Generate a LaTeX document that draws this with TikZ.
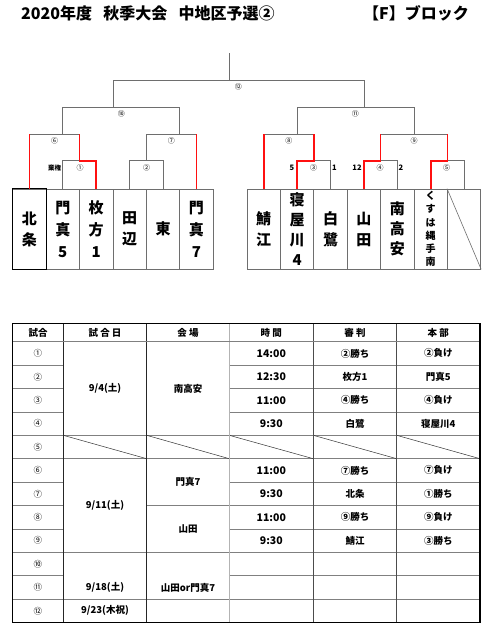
\documentclass[tikz,border=0pt]{standalone}
\usepackage{fontspec}
\setmainfont{Noto Sans CJK JP}
\usetikzlibrary{positioning}
\definecolor{winred}{HTML}{FF1010}
\definecolor{linegray}{HTML}{6E6E6E}
\definecolor{gridgray}{HTML}{808080}

\begin{document}
\begin{tikzpicture}[x=1pt,y=-1pt,
  team/.style={draw=linegray,line width=0.7pt,minimum width=33.4pt,
               minimum height=80pt,inner sep=0pt,align=center,
               font=\fontsize{15}{21}\selectfont\bfseries},
  team3/.style={team,font=\fontsize{15}{22}\selectfont\bfseries},
  team4/.style={team,font=\fontsize{15}{20}\selectfont\bfseries},
  teamsm/.style={team,font=\fontsize{10}{13.3}\selectfont\bfseries},
  ln/.style={draw=linegray,line width=0.8pt},
  win/.style={draw=winred,line width=1.6pt},
  mno/.style={font=\fontsize{7}{8}\selectfont,inner sep=0pt},
  score/.style={font=\fontsize{7.5}{8}\selectfont\bfseries,inner sep=0pt},
  cell/.style={font=\fontsize{9.5}{11}\selectfont\bfseries,inner sep=0pt},
  tline/.style={draw=gridgray,line width=0.6pt},
  bline/.style={draw=black!85,line width=0.9pt}
]
\fill[white] (0,0) rectangle (497,627);
\useasboundingbox (0,0) rectangle (497,627);

% タイトル
\node[anchor=west,inner sep=0pt,font=\fontsize{16}{18}\selectfont\bfseries]
  (title) at (21,13.5) {2020年度\hspace{0.7em}秋季大会\hspace{0.7em}中地区予選②};
\node[anchor=west,inner sep=0pt,font=\fontsize{16}{18}\selectfont\bfseries]
  (block) at (363,13.5) {【F】ブロック};

% チーム
\node[team] (hojo) at (29.4,229) {北\\条};
\node[team3] (kadoma5) at (62.8,229) {門\\真\\5};
\node[team3] (hirakata1) at (96.2,229) {枚\\方\\1};
\node[team] (tanabe) at (129.6,229) {田\\辺};
\node[team] (higashi) at (163,229) {東};
\node[team3] (kadoma7) at (196.4,229) {門\\真\\7};
\node[team] (sabae) at (263.7,229) {鯖\\江};
\node[team4] (neyagawa4) at (297.1,229) {寝\\屋\\川\\4};
\node[team] (shirasagi) at (330.5,229) {白\\鷺};
\node[team] (yamada) at (363.9,229) {山\\田};
\node[team3,font=\fontsize{15}{20}\selectfont\bfseries] (minamitakayasu)
  at (397.3,229) {南\\高\\安};
\node[teamsm] (kusuha) at (430.7,229) {く\\す\\は\\縄\\手\\南};
\node[team] (bye) at (464.1,229) {};
\draw[draw=black,line width=1.1pt] (hojo.north west) rectangle (hojo.south east);
\draw[linegray,line width=0.6pt] (bye.north west) -- (bye.south east);

% 段の高さ
\coordinate (r1) at (0,160.7);
\coordinate (r2) at (0,134);
\coordinate (r3) at (0,107.3);
\coordinate (r4) at (0,80);
\coordinate (top) at (229.5,53.3);
\coordinate (m1) at (79.5,160.7);
\coordinate (m2) at (146.3,160.7);
\coordinate (m3) at (313.8,160.7);
\coordinate (m4) at (380.6,160.7);
\coordinate (m5) at (447.4,160.7);
\coordinate (m7) at (179.7,134);
\coordinate (m9) at (414,134);
\coordinate (m10) at (112.9,107.3);

% 組み合わせ（左）
\draw[ln] (kadoma5.north) |- (m1);
\draw[ln] (hojo.north |- r2) -- (m1 |- r2);
\draw[ln] (kadoma5 |- r2) -- (kadoma5 |- r3);
\draw[ln] (tanabe.north) |- (higashi.north |- r1) -- (higashi.north);
\draw[ln] (m2) -- (m2 |- r2) -- (kadoma7 |- r2);
\draw[ln] (m7) -- (m7 |- r3);
\draw[ln] (kadoma5 |- r3) -- (m7 |- r3);
\draw[ln] (m10) -- (m10 |- r4) -- (yamada |- r4);
\draw[ln] (top) -- (top |- r4);

% 組み合わせ（右）
\draw[ln] (shirasagi.north) |- (m3);
\draw[ln] (sabae |- r2) -- (m3 |- r2);
\draw[ln] (neyagawa4 |- r2) -- (neyagawa4 |- r3);
\draw[ln] (minamitakayasu.north) |- (m4);
\draw[ln] (bye.north) |- (m5);
\draw[ln] (m4 |- r2) -- (m5 |- r2);
\draw[ln] (m9) -- (m9 |- r3);
\draw[ln] (neyagawa4 |- r3) -- (m9 |- r3);
\draw[ln] (yamada |- r3) -- (yamada |- r4);

% 勝ち上がり
\draw[win] (hirakata1.north) |- (m1) -- (m1 |- r2);
\draw[win] (hojo.north) -- (hojo |- r2);
\draw[win] (kadoma7.north) -- (kadoma7 |- r2);
\draw[win] (neyagawa4.north) |- (m3) -- (m3 |- r2);
\draw[win] (sabae.north) -- (sabae |- r2);
\draw[win] (yamada.north) |- (m4) -- (m4 |- r2);
\draw[win] (kusuha.north) |- (m5) -- (m5 |- r2);

% 試合番号
\node[mno] (l12) at (238.4,86.7) {⑫};
\node[mno] (l10) at (121.3,113.5) {⑩};
\node[mno] (l11) at (355.3,113.5) {⑪};
\node[mno] (l6) at (54.5,140.5) {⑥};
\node[mno] (l7) at (171.4,140.5) {⑦};
\node[mno] (l8) at (288.8,140.5) {⑧};
\node[mno] (l9) at (414,140.5) {⑨};
\node[mno] (l1) at (80,167.7) {①};
\node[mno] (l2) at (146.5,167.7) {②};
\node[mno] (l3) at (313.7,167.7) {③};
\node[mno] (l4) at (380,167.7) {④};
\node[mno] (l5) at (446.5,167.7) {⑤};
\node[score,font=\fontsize{6.5}{7}\selectfont\bfseries] (fft) at (54.5,167.7) {棄権};
\node[score] (s3a) at (292,167.7) {5};
\node[score] (s3b) at (334.5,167.7) {1};
\node[score] (s4a) at (357,167.7) {12};
\node[score] (s4b) at (401,167.7) {2};

% 日程表
\foreach \i in {1,...,11}
  \draw[tline] (12.7,{341.7+23.4*\i}) -- (63.3,{341.7+23.4*\i})
               (229.3,{341.7+23.4*\i}) -- (480,{341.7+23.4*\i});
\foreach \i in {4,5,9,11}
  \draw[tline] (63.3,{341.7+23.4*\i}) -- (146.7,{341.7+23.4*\i});
\foreach \i in {4,5,7,9,11}
  \draw[tline] (146.7,{341.7+23.4*\i}) -- (229.3,{341.7+23.4*\i});
\foreach \xa/\xb in {63.3/146.7,146.7/229.3,229.3/313.3,313.3/396.7,396.7/480}
  \draw[draw=black!80,line width=0.5pt] (\xa,435.3) -- (\xb,458.7);
\draw[draw=gridgray!60,line width=0.5pt] (229.3,323.3) -- (229.3,622.5);
\draw[bline] (63.3,323.3) -- (63.3,622.5) (146.7,323.3) -- (146.7,622.5);
\draw[draw=black!70,line width=0.7pt] (313.3,323.3) -- (313.3,622.5)
  (396.7,323.3) -- (396.7,622.5);
\draw[draw=gridgray,line width=1.3pt] (12.7,341.7) -- (480,341.7);
\draw[draw=black,line width=1.4pt] (12.7,323.3) rectangle (480,622.5);

% 見出し
\node[cell] (h1) at (38,332.5) {試合};
\node[cell] (h2) at (105,332.5) {試 合 日};
\node[cell] (h3) at (188,332.5) {会 場};
\node[cell] (h4) at (271.3,332.5) {時 間};
\node[cell] (h5) at (355,332.5) {審 判};
\node[cell] (h6) at (438.3,332.5) {本 部};

\foreach \n [count=\i] in {①,②,③,④,⑤,⑥,⑦,⑧,⑨,⑩,⑪,⑫}
  \node[cell,font=\fontsize{8.5}{9}\selectfont] (no\i) at (38,{330+23.4*\i}) {\n};
\foreach \i/\t/\r/\h in {1/14:00/②勝ち/②負け,2/12:30/枚方1/門真5,
    3/11:00/④勝ち/④負け,4/9:30/白鷺/寝屋川4,6/11:00/⑦勝ち/⑦負け,
    7/9:30/北条/①勝ち,8/11:00/⑨勝ち/⑨負け,9/9:30/鯖江/③勝ち}{
  \node[cell,font=\fontsize{10.5}{12}\selectfont\bfseries] (time\i)
    at (271.3,{330+23.4*\i}) {\t};
  \node[cell] (ref\i) at (355,{330+23.4*\i}) {\r};
  \node[cell] (hq\i) at (438.3,{330+23.4*\i}) {\h};
}
\node[cell] (d1) at (105,388.5) {9/4(土)};
\node[cell] (v1) at (188,388.5) {南高安};
\node[cell] (d2) at (105,505.5) {9/11(土)};
\node[cell] (v2) at (188,482.1) {門真7};
\node[cell] (v3) at (188,528.9) {山田};
\node[cell] (d3) at (105,587.4) {9/18(土)};
\node[cell] (v4) at (188,587.4) {山田or門真7};
\node[cell] (d4) at (105,610.8) {9/23(木祝)};
\end{tikzpicture}
\end{document}
